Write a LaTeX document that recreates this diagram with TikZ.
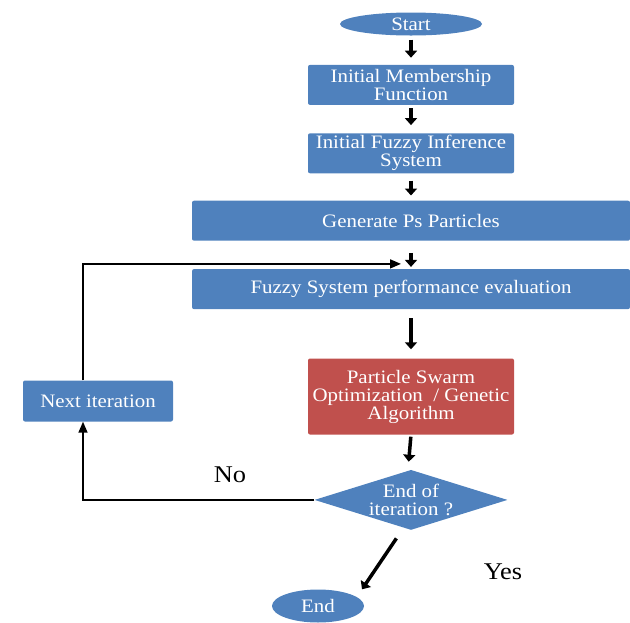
\documentclass[tikz,border=0pt]{standalone}
\usepackage{fontspec}
\setmainfont{Liberation Serif}[FakeStretch=1.1]
\definecolor{boxblue}{RGB}{79, 129, 189}
\definecolor{boxred}{RGB}{192, 80, 77}
\usetikzlibrary{shapes.geometric, arrows.meta, positioning}

\begin{document}
\begin{tikzpicture}[
        x=1pt, y=-1pt,
        node distance=28pt,
        box/.style={rectangle, rounded corners=2pt, fill=boxblue,
                    text=white, minimum width=206pt, minimum height=40pt,
                    inner sep=0pt, align=center,
                    font=\fontsize{19}{18}\selectfont},
        wide/.style={box, minimum width=438pt},
        term/.style={ellipse, fill=boxblue, text=white, inner sep=0pt,
                     font=\fontsize{19}{18}\selectfont},
        decision/.style={diamond, fill=boxblue, text=white, inner sep=0pt,
                         aspect=3.2, minimum width=193pt, minimum height=60pt,
                         align=center, font=\fontsize{19}{18}\selectfont},
        bigarrow/.style={-{Triangle[length=7pt, width=12pt]}, line width=3.5pt},
        arrow/.style={-{Triangle[length=11pt, width=9pt]}, line width=1.5pt},
        tag/.style={font=\fontsize{24}{24}\selectfont}
      ]
        \useasboundingbox (0,0) rectangle (630,622);
        \node[term, minimum width=142pt, minimum height=23pt] (start) at (411,24) {Start};
        \node[box, below=29pt of start] (mf)   {Initial Membership\\Function};
        \node[box, below=of mf]         (fis)  {Initial Fuzzy Inference\\System};
        \node[wide, below=27pt of fis]  (gen)  {Generate Ps Particles};
        \node[wide, below=of gen]       (eval) {Fuzzy System performance evaluation};
        \node[box, below=49pt of eval, fill=boxred, minimum height=76pt]
              (opt)  {Particle Swarm\\Optimization~ / Genetic\\Algorithm};
        \node[decision, below=35pt of opt] (stop) {End of\\iteration ?};
        \node[box, minimum width=150pt, minimum height=41pt] (next) at (98,401) {Next iteration};
        \node[term, minimum width=92pt, minimum height=33pt] (end) at (318,606) {End};
        \node[tag] (no)  at (230,475) {No};
        \node[tag] (yes) at (503,572) {Yes};
        \coordinate (loopin) at ([xshift=-10pt, yshift=5pt]eval.north);

        \draw[bigarrow, shorten <=4pt, shorten >=7pt]  (start) -- (mf);
        \draw[bigarrow, shorten <=3pt, shorten >=8pt]  (mf)    -- (fis);
        \draw[bigarrow, shorten <=7pt, shorten >=5pt]  (fis)   -- (gen);
        \draw[bigarrow, shorten <=12pt, shorten >=2pt] (gen)   -- (eval);
        \draw[bigarrow, shorten <=9pt, shorten >=9pt]  (eval)  -- (opt);
        \draw[bigarrow, shorten <=2pt, shorten >=8pt]  (opt.south) -- ([xshift=-3pt]stop.north);
        \draw[bigarrow, shorten <=10pt] ([xshift=-9pt]stop.south) -- ([xshift=44pt]end.north);
        \draw[arrow] (stop.west) -| ([xshift=-15pt]next.south);
        \draw[arrow] ([xshift=-15pt]next.north) |- (loopin);
      \end{tikzpicture}
\end{document}
